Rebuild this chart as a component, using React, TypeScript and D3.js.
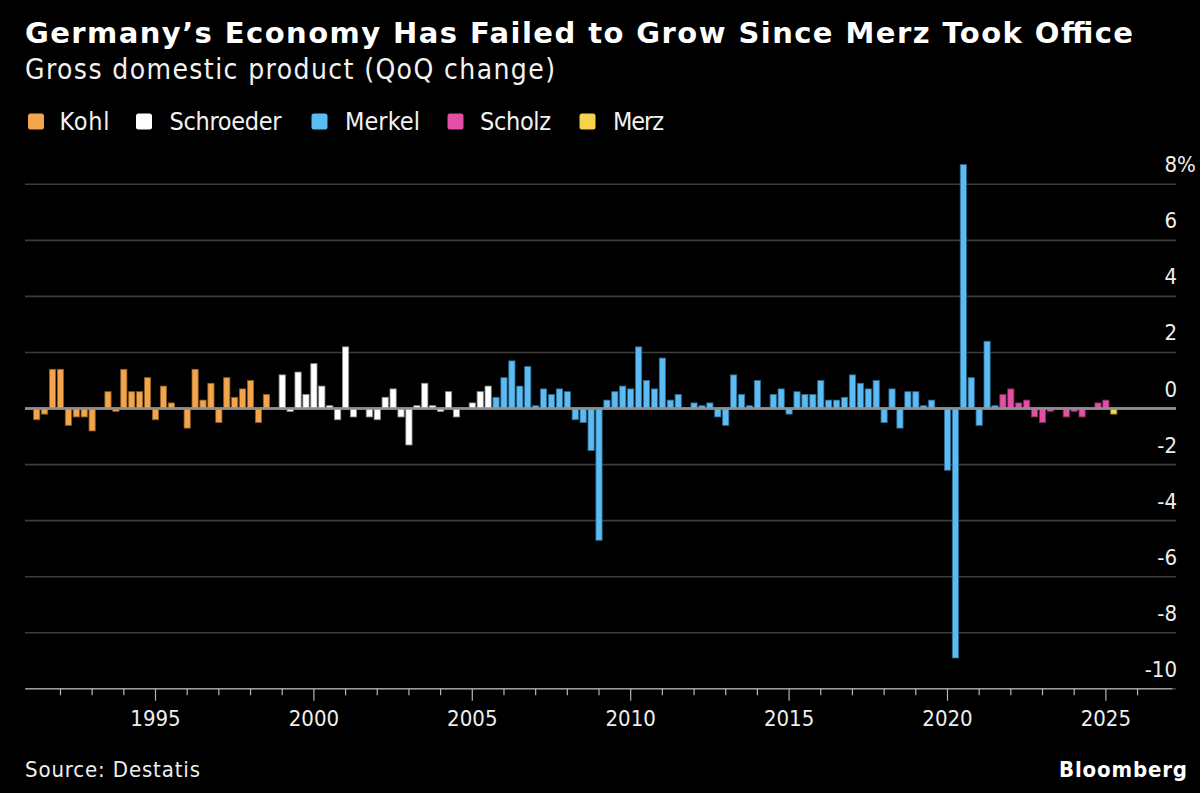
import React, { useEffect } from 'react';
import * as d3 from 'd3';

// ---------- DATA ----------
const title = 'Germany\u2019s Economy Has Failed to Grow Since Merz Took Office';
const subtitle = 'Gross domestic product (QoQ change)';
const source = 'Source: Destatis';

const leaders = ['Kohl', 'Schroeder', 'Merkel', 'Scholz', 'Merz'];
// first quarter (index into gdpQoQ) of each chancellor's term
const leaderFirstIndex = [0, 30, 58, 122, 136];

// first observation: 1991 Q2
const firstYear = 1991;
const firstQuarter = 2;

// GDP, % change on previous quarter, 1991Q2 .. 2025Q2
const gdpQoQ = [
  -0.4, -0.2, 1.4, // 1991
  1.4, -0.6, -0.3, -0.3, // 1992
  -0.8, 0.0, 0.6, -0.1, // 1993
  1.4, 0.6, 0.6, 1.1, // 1994
  -0.4, 0.8, 0.2, 0.0, // 1995
  -0.7, 1.4, 0.3, 0.9, // 1996
  -0.5, 1.1, 0.4, 0.7, // 1997
  1.0, -0.5, 0.5, 0.0, // 1998
  1.2, -0.1, 1.3, 0.5, // 1999
  1.6, 0.8, 0.1, -0.4, // 2000
  2.2, -0.3, 0.0, -0.3, // 2001
  -0.4, 0.4, 0.7, -0.3, // 2002
  -1.3, 0.1, 0.9, 0.1, // 2003
  -0.1, 0.6, -0.3, 0.0, // 2004
  0.2, 0.6, 0.8, 0.4, // 2005
  1.1, 1.7, 0.8, 1.5, // 2006
  0.1, 0.7, 0.5, 0.7, // 2007
  0.6, -0.4, -0.5, -1.5, // 2008
  -4.7, 0.3, 0.6, 0.8, // 2009
  0.7, 2.2, 1.0, 0.7, // 2010
  1.8, 0.3, 0.5, 0.0, // 2011
  0.2, 0.1, 0.2, -0.3, // 2012
  -0.6, 1.2, 0.5, 0.1, // 2013
  1.0, 0.0, 0.5, 0.7, // 2014
  -0.2, 0.6, 0.5, 0.5, // 2015
  1.0, 0.3, 0.3, 0.4, // 2016
  1.2, 0.9, 0.7, 1.0, // 2017
  -0.5, 0.7, -0.7, 0.6, // 2018
  0.6, 0.1, 0.3, 0.0, // 2019
  -2.2, -8.9, 8.7, 1.1, // 2020
  -0.6, 2.4, 0.1, 0.5, // 2021
  0.7, 0.2, 0.3, -0.3, // 2022
  -0.5, -0.1, 0.0, -0.3, // 2023
  -0.1, -0.3, 0.0, 0.2, // 2024
  0.3, -0.2, // 2025
];

const yTickValues = [8, 6, 4, 2, 0, -2, -4, -6, -8, -10];
const xMajorYears = [1995, 2000, 2005, 2010, 2015, 2020, 2025];
const xMinorYears = d3.range(1992, 2027);

// ---------- STYLE ----------
const leaderColors: Record<string, string> = {
  Kohl: '#f4a54b',
  Schroeder: '#ffffff',
  Merkel: '#5bbcf5',
  Scholz: '#e34fa6',
  Merz: '#f7d24c',
};
const W = 1200;
const H = 793;
const condensed = '"DejaVu Sans Condensed", "DejaVu Sans", sans-serif';
const bold = '"DejaVu Sans", Verdana, sans-serif';

// legend layout
const legendSquareX = [28, 136, 311.5, 447.5, 579.5];
const legendTextX = [59.5, 169.5, 345, 480, 613];
const legendTextLen = [50, 112, 75, 71, 51];

export default function App() {
  useEffect(() => {
    document.body.style.margin = '0';
    document.body.style.background = '#000';
  }, []);

  const x = d3.scaleLinear().domain([1990.89, 2027.1]).range([25.3, 1172.4]);
  const y = d3.scaleLinear().domain([-10, 8]).range([688.8, 184.3]);

  const bars = gdpQoQ.map((v, i) => {
    const qIdx = firstQuarter - 1 + i;
    const t = firstYear + qIdx / 4; // quarter start
    let leader = leaders[0];
    leaderFirstIndex.forEach((s, k) => {
      if (i >= s) leader = leaders[k];
    });
    return { v, t, leader };
  });

  const barW = 6.2;

  return (
    <svg
      width={W}
      height={H}
      viewBox={`0 0 ${W} ${H}`}
      style={{ position: 'absolute', left: 0, top: 0, display: 'block', background: '#000' }}
    >
      <rect x={0} y={0} width={W} height={H} fill="#000" />
      {/* title */}
      <text
        x={25}
        y={43}
        fill="#ffffff"
        fontFamily={bold}
        fontWeight="bold"
        fontSize={29}
        textLength={1108}
      >
        {title}
      </text>
      <text x={25} y={79} fill="#f2f2f2" fontFamily={condensed} fontSize={28} textLength={530}>
        {subtitle}
      </text>

      {/* legend */}
      {leaders.map((name, k) => (
        <g key={name}>
          <rect
            x={legendSquareX[k]}
            y={113.5}
            width={16}
            height={16}
            rx={2.5}
            fill={leaderColors[name]}
          />
          <text
            x={legendTextX[k]}
            y={129.5}
            fill="#f2f2f2"
            fontFamily={condensed}
            fontSize={25}
            textLength={legendTextLen[k]}
          >
            {name}
          </text>
        </g>
      ))}

      {/* gridlines */}
      {yTickValues.map((v) => (
        <line
          key={'g' + v}
          x1={25}
          x2={1176}
          y1={y(v)}
          y2={y(v)}
          stroke={v === 0 ? '#8e8e8e' : '#3c3c3c'}
          strokeWidth={v === 0 ? 2.5 : 1.6}
        />
      ))}

      {/* y labels */}
      {yTickValues.map((v) => (
        <g key={'l' + v}>
          <text
            x={1177}
            y={y(v) - 12}
            textAnchor="end"
            fill="#eeeeee"
            fontFamily={condensed}
            fontSize={22}
          >
            {v < 0 ? '-' + Math.abs(v) : String(v)}
          </text>
          {v === 8 && (
            <text x={1177} y={y(v) - 12} fill="#eeeeee" fontFamily={condensed} fontSize={22}>
              %
            </text>
          )}
        </g>
      ))}

      {/* bars */}
      {bars.map((b, i) => {
        const c = leaderColors[b.leader];
        const y0 = y(Math.max(0, b.v));
        const y1 = y(Math.min(0, b.v));
        const h = Math.max(0, y1 - y0);
        if (h === 0) return null;
        return (
          <rect
            key={'b' + i}
            x={x(b.t) - barW / 2}
            y={y0}
            width={barW}
            height={h}
            fill={c}
            stroke={d3.color(c)!.darker(1.6).formatHex()}
            strokeWidth={0.8}
          />
        );
      })}

      {/* zero line on top */}
      <line x1={25} x2={1176} y1={y(0)} y2={y(0)} stroke="#8e8e8e" strokeWidth={2.5} />

      {/* x axis */}
      <line x1={25.3} x2={1172.4} y1={y(-10)} y2={y(-10)} stroke="#9a9a9a" strokeWidth={1.5} />
      {xMinorYears.map((yr) => (
        <line
          key={'t' + yr}
          x1={x(yr)}
          x2={x(yr)}
          y1={y(-10)}
          y2={y(-10) + (xMajorYears.includes(yr) ? 12 : 6.5)}
          stroke="#b5b5b5"
          strokeWidth={1.2}
        />
      ))}
      {xMajorYears.map((yr) => (
        <text
          key={'x' + yr}
          x={x(yr)}
          y={726}
          textAnchor="middle"
          fill="#eeeeee"
          fontFamily={condensed}
          fontSize={22}
        >
          {yr}
        </text>
      ))}

      {/* footer */}
      <text x={25} y={777} fill="#eeeeee" fontFamily={condensed} fontSize={22} textLength={175}>
        {source}
      </text>
      <text
        x={1187}
        y={777}
        textAnchor="end"
        fill="#ffffff"
        fontFamily={condensed}
        fontWeight="bold"
        fontSize={22}
        textLength={128}
      >
        Bloomberg
      </text>
    </svg>
  );
}
